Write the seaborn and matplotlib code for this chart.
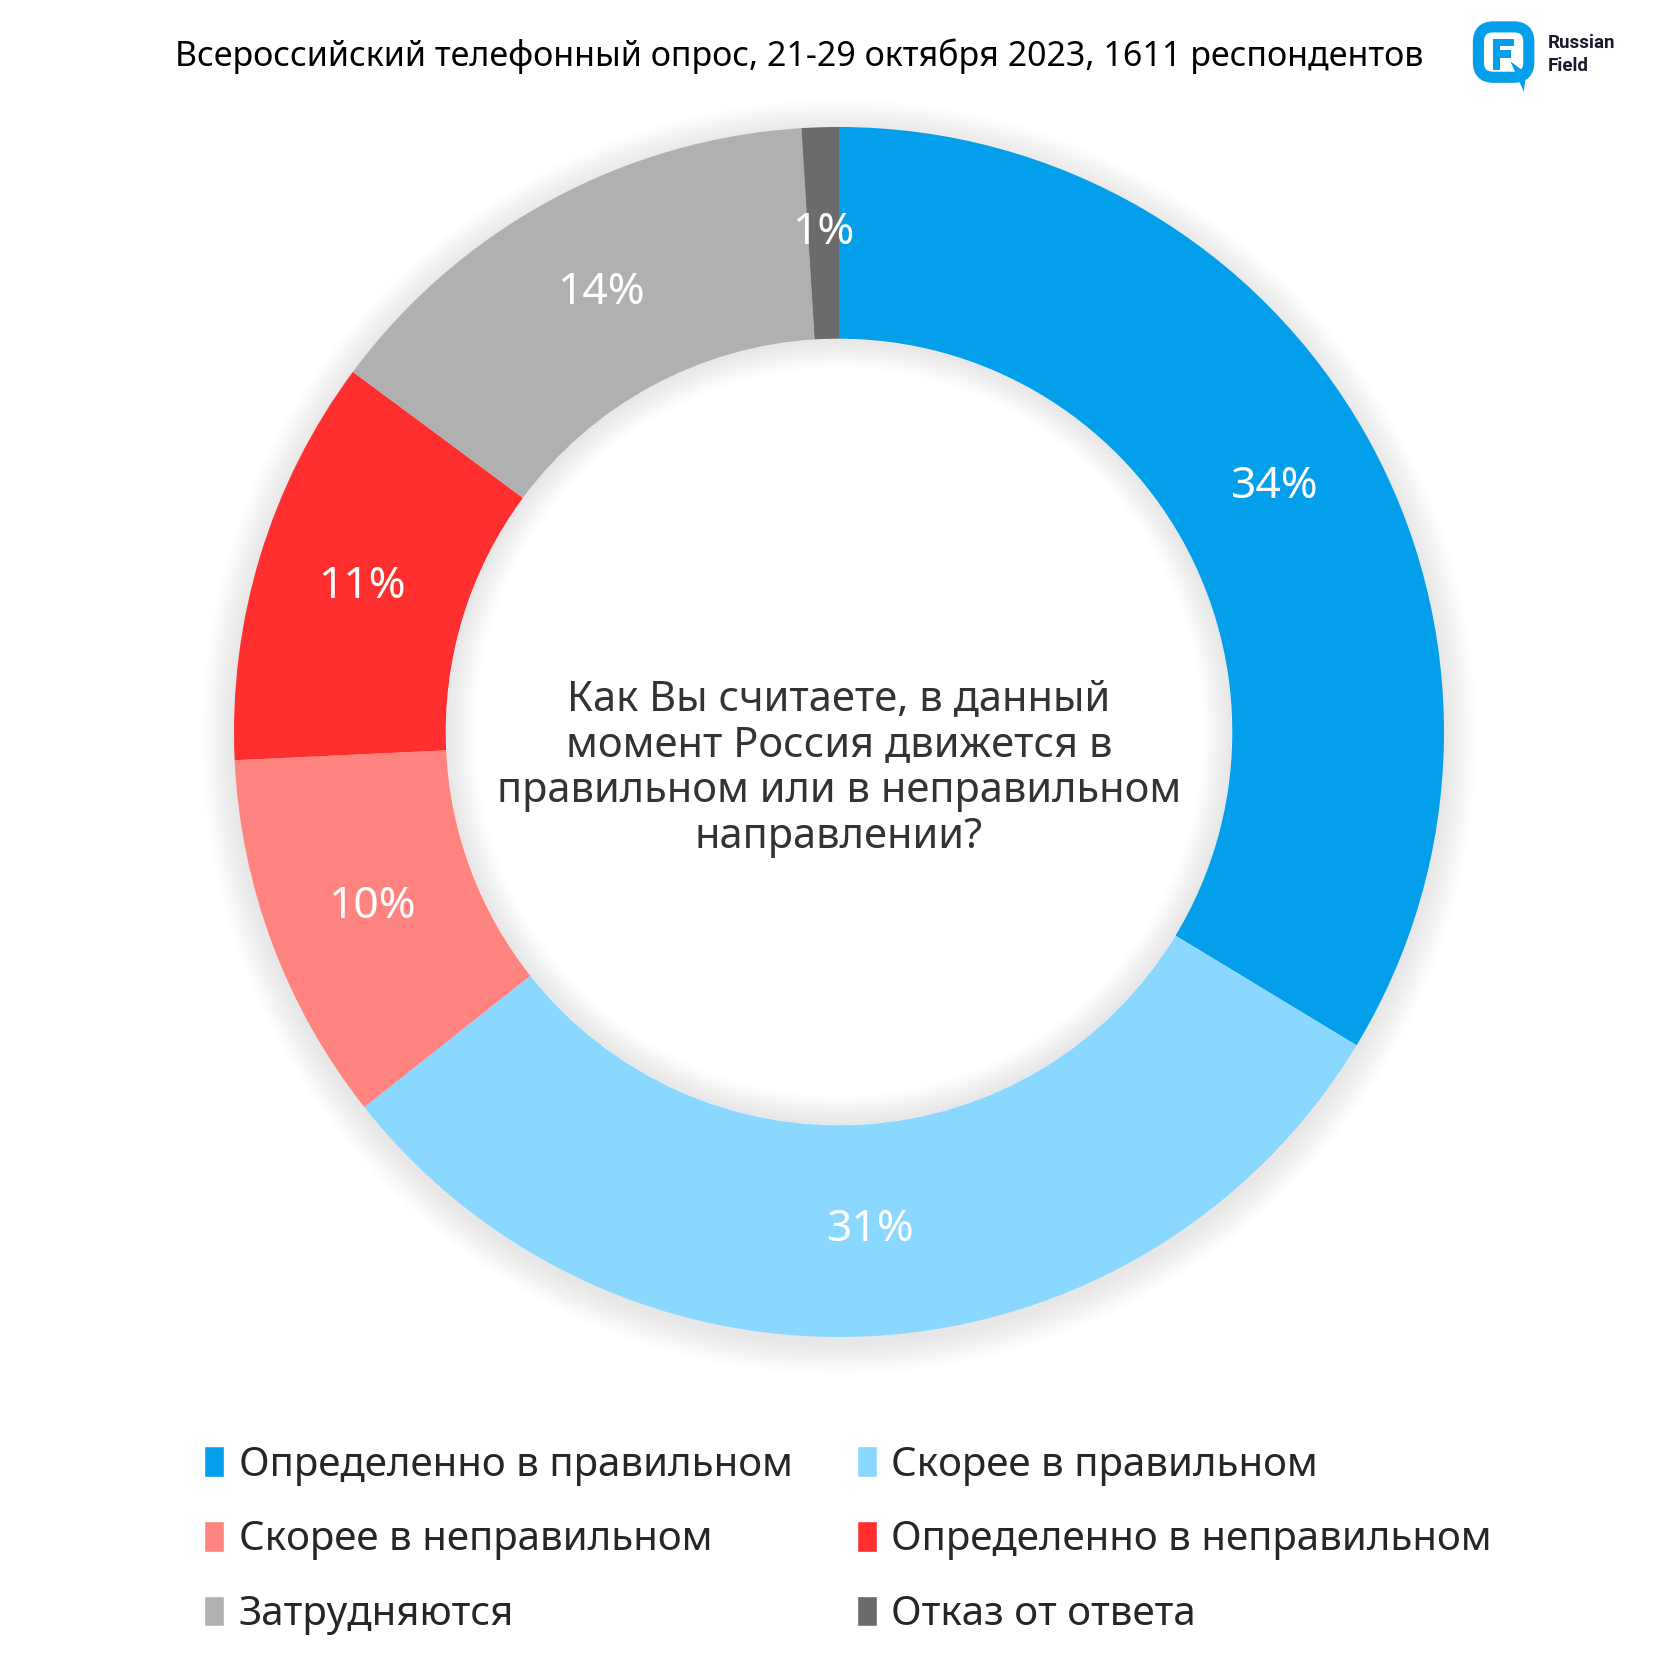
import matplotlib
matplotlib.use("Agg")
import matplotlib.pyplot as plt
import matplotlib.patches as mpatches
import seaborn as sns

# Survey data
categories = [
    "Определенно в правильном",
    "Скорее в правильном",
    "Скорее в неправильном",
    "Определенно в неправильном",
    "Затрудняются",
    "Отказ от ответа",
]
values = [34, 31, 10, 11, 14, 1]
colors = ["#039fea", "#8ad7ff", "#ff847f", "#ff2f2f", "#b0b0b0", "#6b6b6b"]
pct_labels = [f"{v}%" for v in values]

title = "Всероссийский телефонный опрос, 21-29 октября 2023, 1611 респондентов"
question = "Как Вы считаете, в данный\nмомент Россия движется в\nправильном или в неправильном\nнаправлении?"

sns.set_theme(style="white")
plt.rcParams["font.family"] = ["Noto Sans", "DejaVu Sans"]

fig = plt.figure(figsize=(16.8, 16.8), dpi=100)
ax = fig.add_axes([0, 0, 1, 1])
ax.set_axis_off()

# soft shadow outside the ring (slightly offset down)
for i in range(12):
    ax.add_patch(mpatches.Wedge((0, -0.008), 1.0 + 0.0045 * (i + 1), 0, 360,
                                width=0.0045 * (i + 1) + 0.2,
                                facecolor="black", alpha=0.008, lw=0))

label_iter = iter(pct_labels)
wedges, texts, autotexts = ax.pie(
    values, colors=colors, startangle=90, counterclock=False, radius=1.0,
    wedgeprops=dict(width=0.35, linewidth=0),
    autopct=lambda p: next(label_iter), pctdistance=0.825,
    textprops=dict(color="white", fontsize=32),
)

# inner shadow inside the hole
for i in range(12):
    ax.add_patch(mpatches.Wedge((0, 0), 0.6495, 0, 360, width=0.004 * (i + 1),
                                facecolor="black", alpha=0.007, lw=0))

ax.set_xlim(-839 / 605, (1680 - 839) / 605)
ax.set_ylim(-(1680 - 732) / 605, 732 / 605)
ax.set_aspect("auto")

ax.text(0, -0.06, question, ha="center", va="center", fontsize=30, color="#333333", linespacing=1.12)

fig.text(0.104, 0.9667, title, ha="left", va="center", fontsize=24.5, color="black")

# logo
logo = mpatches.FancyBboxPatch((0.8800, 0.9540), 0.030, 0.030,
                               boxstyle="round,pad=0,rounding_size=0.009",
                               transform=fig.transFigure, facecolor="none",
                               edgecolor="#039fea", linewidth=8)
fig.patches.append(logo)
fig.patches.append(mpatches.Rectangle((0.8885, 0.9585), 0.0045, 0.018, transform=fig.transFigure,
                                      facecolor="#039fea", lw=0))
fig.patches.append(mpatches.Rectangle((0.8885, 0.9725), 0.0125, 0.0045, transform=fig.transFigure,
                                      facecolor="#039fea", lw=0))
fig.patches.append(mpatches.Rectangle((0.8885, 0.9655), 0.0110, 0.0045, transform=fig.transFigure,
                                      facecolor="#039fea", lw=0))
fig.patches.append(mpatches.Polygon([(0.8990, 0.9635), (0.9070, 0.9455), (0.9085, 0.9565)],
                                    closed=True, transform=fig.transFigure,
                                    facecolor="#039fea", lw=0))
fig.text(0.9215, 0.9675, "Russian\nField", ha="left", va="center", fontsize=13.5,
         fontweight="bold", family=["Roboto", "DejaVu Sans"], color="#1a1a2e", linespacing=1.35)

# legend, column-first order
order = [0, 2, 4, 1, 3, 5]
handles = [mpatches.Patch(facecolor=colors[i], label=categories[i]) for i in order]
fig.legend(handles=handles, ncol=2, loc="upper left", bbox_to_anchor=(0.112, 0.149),
           frameon=False, fontsize=29, handlelength=0.5, handleheight=0.8,
           handletextpad=0.35, columnspacing=1.6, labelspacing=0.86, borderaxespad=0)

fig.savefig("out.png", dpi=100, facecolor="white")
